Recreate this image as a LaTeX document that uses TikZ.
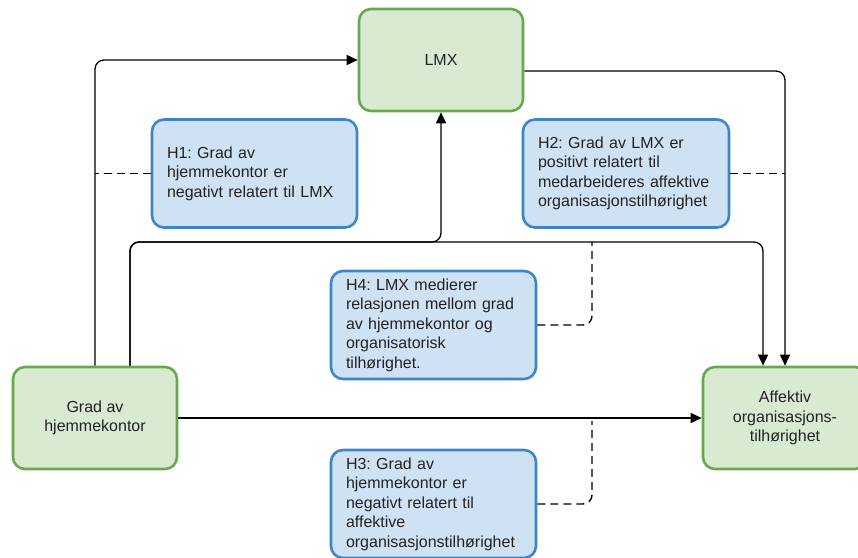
\documentclass[tikz,border=0pt]{standalone}
\usepackage{fontspec}
\setmainfont{Liberation Sans}
\usetikzlibrary{arrows.meta}
\frenchspacing
\definecolor{gfill}{HTML}{D9EAD3}
\definecolor{gline}{HTML}{6AA84F}
\definecolor{bfill}{HTML}{CFE2F3}
\definecolor{bline}{HTML}{3D85C6}
\definecolor{txt}{HTML}{222222}
\tikzset{
  gbox/.style={draw=gline, fill=gfill, line width=2.6pt, rounded corners=12pt,
    minimum width=164pt, minimum height=102pt, align=center, text=txt,
    font=\fontsize{16}{19.5}\selectfont},
  hbox/.style={draw=bline, fill=bfill, line width=2.6pt, rounded corners=12pt,
    minimum width=205pt, minimum height=108pt, align=left, text width=175pt,
    inner xsep=15pt, text=txt, font=\fontsize{16}{19.5}\selectfont},
  conn/.style={draw=black, line width=1.3pt, rounded corners=9pt,
    -{Triangle[length=11pt,width=10pt]}},
  dconn/.style={draw=black, line width=1.4pt, rounded corners=9pt,
    dash pattern=on 8pt off 5pt},
}
\begin{document}
\begin{tikzpicture}[x=1pt,y=-1pt]
\useasboundingbox (0,0) rectangle (858,557);
\node[gbox] (lmx) at (441,60) {LMX};
\node[gbox] (grad) at (95,418) {Grad av\\hjemmekontor};
\node[gbox] (aff) at (785,418) {Affektiv\\organisasjons-\\tilhørighet};
\node[hbox] (h1) at (254.5,173.5) {H1: Grad av\\hjemmekontor er\\negativt relatert til LMX};
\node[hbox,minimum width=206pt,text width=176pt] (h2) at (626,173.5) {H2: Grad av LMX er\\positivt relatert til\\medarbeideres affektive\\organisasjonstilhørighet};
\node[hbox] (h4) at (433.5,325) {H4: LMX medierer\\relasjonen mellom grad\\av hjemmekontor og\\organisatorisk\\tilhørighet.};
\node[hbox] (h3) at (433.5,504) {H3: Grad av\\hjemmekontor er\\negativt relatert til\\affektive\\organisasjonstilhørighet};
\coordinate (j1) at (130,242);
\coordinate (j2) at (592,242);
\coordinate (j3) at (592,421);
% connectors
\draw[conn] (grad.north) |- (lmx.west);
\draw[conn] ([xshift=35pt]grad.north) |- (lmx.south |- j1) -- (lmx.south);
\draw[conn] ([xshift=35pt]grad.north) |- ([xshift=-22pt]aff.north |- j1) -- ([xshift=-22pt]aff.north);
\draw[conn] ([yshift=-11pt]lmx.east) -| (aff.north);
\draw[conn] (grad.east) -- (aff.west);
% dashed hypothesis links
\draw[dconn] (h1.west) -- (h1.west -| grad.north);
\draw[dconn] (h2.east) -- (h2.east -| aff.north);
\draw[dconn] (h4.east) -| (j2);
\draw[dconn] (h3.east) -| (j3);
\end{tikzpicture}
\end{document}
